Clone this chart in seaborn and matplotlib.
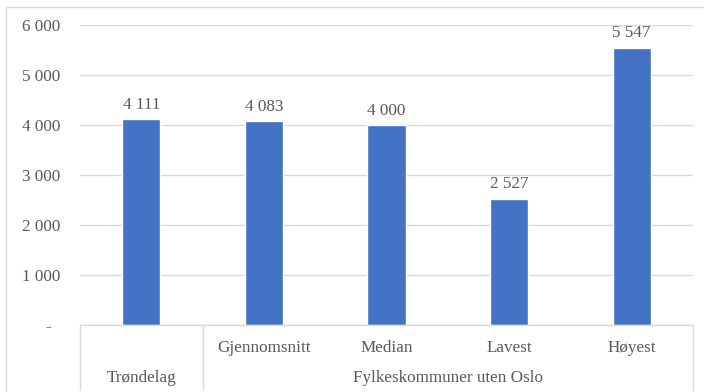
import matplotlib
matplotlib.use("Agg")
import matplotlib.pyplot as plt
from matplotlib.patches import Rectangle
import seaborn as sns
import pandas as pd

# Values per category
categories = ["Trøndelag", "Gjennomsnitt", "Median", "Lavest", "Høyest"]
values = [4111, 4083, 4000, 2527, 5547]
group_label = "Fylkeskommuner uten Oslo"
y_ticks = [0, 1000, 2000, 3000, 4000, 5000, 6000]

sns.set_theme(style="white")
plt.rcParams["font.family"] = ["Liberation Serif", "DejaVu Serif"]

TEXT = "#595959"
LINE = "#d9d9d9"
BAR = "#4472C4"
FS = 12.3

df = pd.DataFrame({"cat": categories, "val": values})

fig = plt.figure(figsize=(7.04, 3.92), dpi=100)
ax = fig.add_axes([80 / 704, 67 / 392, 613 / 704, 300 / 392])

sns.barplot(data=df, x="cat", y="val", color=BAR, saturation=1,
            width=0.31, ax=ax)

ax.set_xlim(-0.5, len(categories) - 0.5)
ax.set_ylim(0, 6000)
ax.set_yticks(y_ticks)
# accounting-style labels: zero shown as a dash set in from the right
ax.set_yticklabels(["-  " if t == 0 else f"{t:,}".replace(",", " ") for t in y_ticks],
                   fontsize=FS, color=TEXT)
ax.tick_params(axis="y", length=0, pad=14.4)
ax.set_xticks([])
ax.set_xlabel("")
ax.set_ylabel("")
for s in ax.spines.values():
    s.set_visible(False)
ax.yaxis.grid(True, color=LINE, linewidth=1)
ax.set_axisbelow(True)

# Value labels
for cont in ax.containers:
    ax.bar_label(cont, labels=[f"{v:,}".replace(",", " ") for v in values],
                 padding=4.5, fontsize=FS, color=TEXT)

# Two-level category axis
trans = ax.get_xaxis_transform()
ax.plot([-0.5, len(categories) - 0.5], [0, 0], color=LINE, lw=1,
        transform=trans, clip_on=False)
for xv in [-0.5, 0.5, len(categories) - 0.5]:
    ax.plot([xv, xv], [0, -0.215], color=LINE, lw=1, transform=trans,
            clip_on=False)

for i, c in enumerate(categories[1:], start=1):
    ax.text(i, -0.075, c, transform=trans, ha="center", va="center",
            fontsize=FS, color=TEXT)
ax.text(0, -0.175, categories[0], transform=trans, ha="center", va="center",
        fontsize=FS, color=TEXT)
ax.text((1 + len(categories) - 1) / 2, -0.175, group_label, transform=trans,
        ha="center", va="center", fontsize=FS, color=TEXT)

# Chart frame
fig.patches.append(Rectangle((6 / 704, -0.01), 1.0, (392 - 7) / 392 + 0.01,
                             transform=fig.transFigure, fill=False,
                             edgecolor=LINE, lw=1))

fig.savefig("out.png", dpi=100)
